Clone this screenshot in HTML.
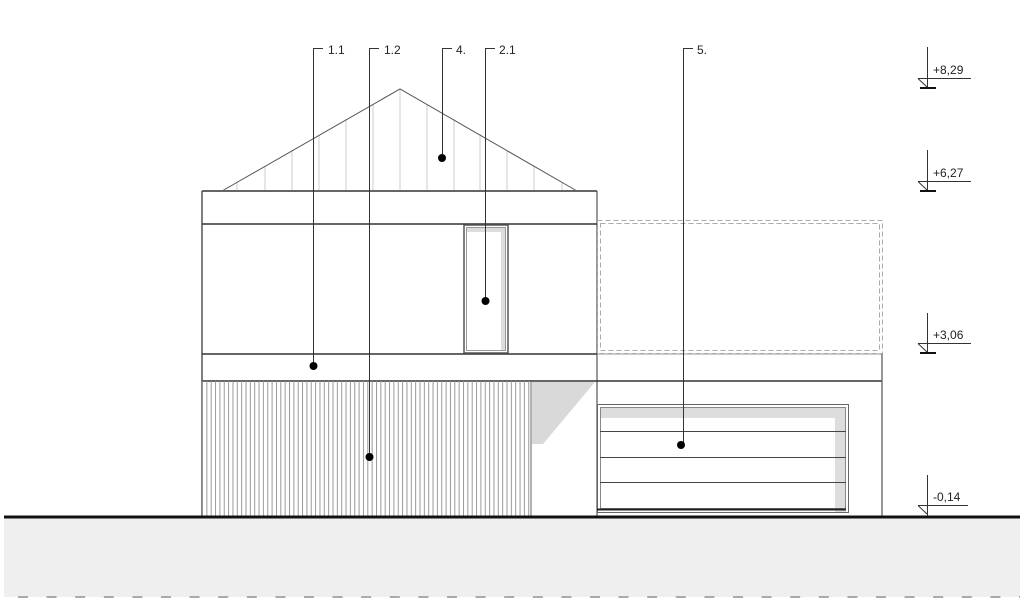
<!DOCTYPE html>
<html><head><meta charset="utf-8"><style>
html,body{margin:0;padding:0;background:#fff;}
svg{display:block;}
text{font-family:"Liberation Sans",sans-serif;font-size:12px;fill:#222;}
</style></head><body>
<svg width="1024" height="604" viewBox="0 0 1024 604" xmlns="http://www.w3.org/2000/svg">
<!-- ground -->
<rect x="4" y="517" width="1016" height="80" fill="#efefef"/>
<line x1="18" y1="597" x2="1020" y2="597" stroke="#aaa" stroke-width="2" stroke-dasharray="10 18.6"/>
<!-- roof gable -->
<g stroke="#ccc" stroke-width="1">
<line x1="237" y1="182" x2="237" y2="191"/><line x1="265" y1="166" x2="265" y2="191"/>
<line x1="292" y1="150" x2="292" y2="191"/><line x1="319" y1="135" x2="319" y2="191"/>
<line x1="346" y1="119" x2="346" y2="191"/><line x1="373" y1="104" x2="373" y2="191"/>
<line x1="400" y1="89" x2="400" y2="191"/><line x1="427" y1="104" x2="427" y2="191"/>
<line x1="454" y1="119" x2="454" y2="191"/><line x1="480" y1="134" x2="480" y2="191"/>
<line x1="507" y1="150" x2="507" y2="191"/><line x1="534" y1="166" x2="534" y2="191"/>
<line x1="562" y1="182" x2="562" y2="191"/>
</g>
<polyline points="222,191 400,89 577,191" fill="none" stroke="#555" stroke-width="1"/>
<line x1="202" y1="191" x2="597" y2="191" stroke="#666" stroke-width="2"/>
<!-- upper walls -->
<line x1="202" y1="191" x2="202" y2="517" stroke="#555" stroke-width="1.5"/>
<line x1="597" y1="191" x2="597" y2="517" stroke="#555" stroke-width="1.2"/>
<line x1="202" y1="224" x2="597" y2="224" stroke="#333" stroke-width="1.5"/>
<line x1="202" y1="354" x2="597" y2="354" stroke="#333" stroke-width="1.5"/>
<line x1="202" y1="381" x2="882" y2="381" stroke="#333" stroke-width="1.5"/>
<line x1="597" y1="354" x2="882" y2="354" stroke="#999" stroke-width="1"/>
<line x1="882" y1="354" x2="882" y2="517" stroke="#555" stroke-width="1.2"/>
<!-- dashed box -->
<rect x="597.5" y="220.5" width="285" height="133" fill="none" stroke="#aaa" stroke-dasharray="5 3"/>
<rect x="600.5" y="223.5" width="279" height="127" fill="none" stroke="#aaa" stroke-dasharray="5 3"/>
<!-- window -->
<rect x="464" y="225" width="44" height="128" fill="#fff" stroke="#555" stroke-width="1.5"/>
<rect x="466" y="227" width="40" height="5" fill="#ddd"/>
<rect x="501" y="227" width="5" height="124" fill="#ddd"/>
<rect x="466.5" y="227.5" width="39" height="123" fill="none" stroke="#999" stroke-width="1"/>
<!-- cladding -->
<g id="clad" stroke="#999" stroke-width="1"></g>
<rect x="202" y="381" width="329" height="136" fill="url(#str)"/>
<defs><pattern id="str" x="202" y="0" width="4.35" height="10" patternUnits="userSpaceOnUse">
<line x1="0.5" y1="0" x2="0.5" y2="10" stroke="#999" stroke-width="1"/></pattern></defs>
<line x1="531" y1="381" x2="531" y2="517" stroke="#666" stroke-width="1"/>
<polygon points="532,382 595,382 543,444 532,444" fill="#d9d9d9"/>
<!-- garage -->
<rect x="597.5" y="404.5" width="251" height="108" fill="#fff" stroke="#666" stroke-width="1"/>
<rect x="600" y="407" width="246" height="11" fill="#ddd"/>
<rect x="835" y="407" width="11" height="105" fill="#ddd"/>
<rect x="600.5" y="407.5" width="245" height="101" fill="none" stroke="#888" stroke-width="1"/>
<g stroke="#444" stroke-width="1">
<line x1="600" y1="431.5" x2="846" y2="431.5"/>
<line x1="600" y1="457.5" x2="846" y2="457.5"/>
<line x1="600" y1="482.5" x2="846" y2="482.5"/>
</g>
<line x1="597" y1="509.5" x2="846" y2="509.5" stroke="#222" stroke-width="2"/>
<!-- ground line -->
<line x1="4" y1="517" x2="1020" y2="517" stroke="#111" stroke-width="3"/>
<!-- leaders -->
<g stroke="#333" stroke-width="1" fill="none">
<polyline points="323,48.5 313.5,48.5 313.5,366"/>
<polyline points="379,48.5 369.5,48.5 369.5,457"/>
<polyline points="452,48.5 442.5,48.5 442.5,158"/>
<polyline points="495,48.5 485.5,48.5 485.5,301"/>
<polyline points="693,48.5 683.5,48.5 683.5,445"/>
</g>
<g fill="#000">
<circle cx="313.5" cy="366" r="4"/><circle cx="369.5" cy="457" r="4"/>
<circle cx="442" cy="158" r="4"/><circle cx="485.5" cy="301" r="4"/>
<circle cx="681" cy="445" r="4"/>
</g>
<text x="328" y="54">1.1</text><text x="384" y="54">1.2</text>
<text x="456" y="54">4.</text><text x="499" y="54">2.1</text><text x="697" y="54">5.</text>
<!-- levels -->
<g stroke="#333" stroke-width="1" fill="none">
<path d="M927.5 47V88M918 78.5H971M918 78.5L927 87"/>
<path d="M927.5 150V191M918 181.5H971M918 181.5L927 190"/>
<path d="M927.5 313V354M918 343.5H971M918 343.5L927 352"/>
<path d="M927.5 475V516M918 505.5H968M918 505.5L927 514"/>
</g>
<g stroke="#111" stroke-width="2">
<line x1="920" y1="88" x2="936" y2="88"/><line x1="920" y1="191" x2="936" y2="191"/>
<line x1="920" y1="353" x2="936" y2="353"/>
</g>
<text x="933" y="74">+8,29</text><text x="933" y="177">+6,27</text>
<text x="933" y="339">+3,06</text><text x="933" y="501">-0,14</text>
</svg>
</body></html>
